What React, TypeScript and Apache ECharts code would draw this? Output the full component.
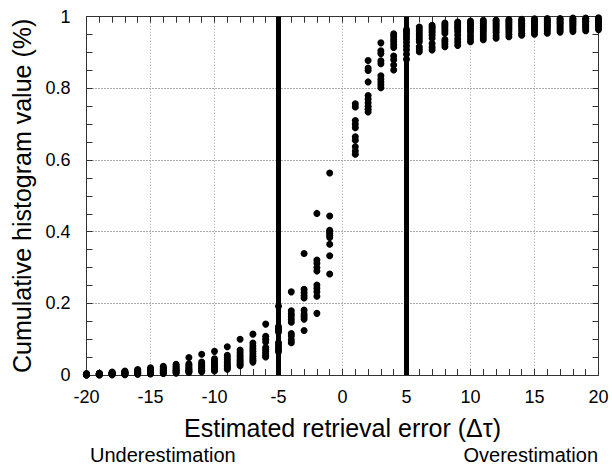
import React, { useEffect, useRef } from "react";
import * as echarts from "echarts";

// Error bins (the zero bin is not part of the histogram)
const errorBins = [
  -20, -19, -18, -17, -16, -15, -14, -13, -12, -11, -10, -9, -8, -7, -6, -5, -4, -3, -2, -1,
  1, 2, 3, 4, 5, 6, 7, 8, 9, 10, 11, 12, 13, 14, 15, 16, 17, 18, 19, 20,
];

// Cumulative histogram values for each retrieval set, one value per bin
const set1 = [
  0.004, 0.005, 0.008, 0.011, 0.015, 0.02, 0.024, 0.03, 0.049, 0.058, 0.066, 0.079, 0.1, 0.114, 0.142, 0.192, 0.232, 0.339, 0.451, 0.564,
  0.757, 0.878, 0.927, 0.952, 0.964, 0.971, 0.976, 0.982, 0.985, 0.988, 0.99, 0.991, 0.992, 0.993, 0.994, 0.995, 0.995, 0.996, 0.996, 0.997,
];
const set2 = [
  0.003, 0.004, 0.007, 0.009, 0.013, 0.017, 0.021, 0.026, 0.031, 0.036, 0.045, 0.055, 0.07, 0.089, 0.108, 0.135, 0.179, 0.239, 0.321, 0.444,
  0.748, 0.857, 0.905, 0.945, 0.958, 0.965, 0.971, 0.977, 0.98, 0.983, 0.985, 0.987, 0.988, 0.989, 0.99, 0.991, 0.992, 0.993, 0.993, 0.994,
];
const set3 = [
  0.003, 0.004, 0.006, 0.008, 0.011, 0.014, 0.018, 0.022, 0.027, 0.031, 0.039, 0.049, 0.063, 0.081, 0.1, 0.13, 0.17, 0.23, 0.312, 0.404,
  0.71, 0.85, 0.897, 0.937, 0.952, 0.958, 0.966, 0.972, 0.975, 0.978, 0.98, 0.982, 0.984, 0.985, 0.986, 0.987, 0.988, 0.989, 0.99, 0.991,
];
const set4 = [
  0.002, 0.003, 0.005, 0.007, 0.009, 0.012, 0.015, 0.019, 0.023, 0.027, 0.034, 0.043, 0.056, 0.073, 0.092, 0.125, 0.163, 0.222, 0.3, 0.4,
  0.7, 0.818, 0.877, 0.93, 0.944, 0.951, 0.96, 0.966, 0.97, 0.973, 0.975, 0.977, 0.979, 0.981, 0.982, 0.983, 0.984, 0.986, 0.987, 0.988,
];
const set5 = [
  0.002, 0.003, 0.004, 0.006, 0.008, 0.01, 0.013, 0.016, 0.019, 0.023, 0.029, 0.037, 0.05, 0.066, 0.077, 0.12, 0.155, 0.215, 0.29, 0.395,
  0.69, 0.78, 0.869, 0.922, 0.937, 0.944, 0.955, 0.96, 0.965, 0.967, 0.97, 0.972, 0.974, 0.976, 0.978, 0.979, 0.981, 0.982, 0.983, 0.984,
];
const set6 = [
  0.002, 0.002, 0.003, 0.005, 0.006, 0.008, 0.011, 0.013, 0.016, 0.019, 0.025, 0.032, 0.044, 0.059, 0.071, 0.09, 0.147, 0.181, 0.251, 0.39,
  0.665, 0.77, 0.835, 0.914, 0.928, 0.937, 0.948, 0.954, 0.958, 0.962, 0.964, 0.967, 0.969, 0.971, 0.973, 0.975, 0.977, 0.978, 0.979, 0.98,
];
const set7 = [
  0.001, 0.002, 0.003, 0.004, 0.005, 0.007, 0.009, 0.011, 0.013, 0.016, 0.021, 0.027, 0.039, 0.052, 0.065, 0.083, 0.116, 0.17, 0.242, 0.384,
  0.655, 0.76, 0.826, 0.89, 0.918, 0.93, 0.94, 0.936, 0.948, 0.955, 0.958, 0.961, 0.964, 0.966, 0.968, 0.97, 0.972, 0.974, 0.975, 0.977,
];
const set8 = [
  0.001, 0.001, 0.002, 0.003, 0.004, 0.005, 0.007, 0.009, 0.011, 0.013, 0.017, 0.023, 0.034, 0.046, 0.059, 0.076, 0.109, 0.163, 0.232, 0.365,
  0.637, 0.75, 0.818, 0.88, 0.908, 0.916, 0.925, 0.93, 0.938, 0.946, 0.951, 0.955, 0.958, 0.961, 0.963, 0.965, 0.967, 0.969, 0.971, 0.973,
];
const set9 = [
  0.0, 0.001, 0.001, 0.002, 0.003, 0.004, 0.005, 0.007, 0.009, 0.011, 0.014, 0.019, 0.03, 0.041, 0.054, 0.07, 0.098, 0.156, 0.22, 0.333,
  0.625, 0.742, 0.81, 0.865, 0.895, 0.909, 0.915, 0.923, 0.929, 0.938, 0.943, 0.947, 0.951, 0.954, 0.957, 0.96, 0.962, 0.964, 0.966, 0.969,
];
const set10 = [
  0.0, 0.0, 0.001, 0.001, 0.002, 0.003, 0.004, 0.005, 0.007, 0.009, 0.011, 0.016, 0.026, 0.036, 0.05, 0.065, 0.09, 0.124, 0.172, 0.282,
  0.616, 0.734, 0.802, 0.851, 0.881, 0.902, 0.907, 0.916, 0.92, 0.93, 0.936, 0.94, 0.944, 0.948, 0.951, 0.954, 0.957, 0.959, 0.961, 0.964,
];

const retrievalSets = [set1, set2, set3, set4, set5, set6, set7, set8, set9, set10];

// Error thresholds marked by the heavy vertical lines
const thresholds = [-5, 5];

const FONT = "'Liberation Sans', Arial, Helvetica, sans-serif";
const FRAME = "#333";

export default function App() {
  const ref = useRef<HTMLDivElement>(null);

  useEffect(() => {
    if (!ref.current) return;
    const chart = echarts.init(ref.current, undefined, { renderer: "svg" });

    // Frame on all four sides with inward major and minor ticks
    const line = () => ({ show: true, onZero: false, lineStyle: { color: FRAME, width: 1 } });
    const tick = () => ({ show: true, inside: true, length: 6, lineStyle: { color: FRAME, width: 1 } });
    const minor = (n: number) => ({ show: true, splitNumber: n, length: 6, lineStyle: { color: FRAME, width: 1 } });

    const series: any[] = retrievalSets.map((vals, i) => ({
      type: "scatter",
      name: `set${i + 1}`,
      xAxisIndex: 0,
      yAxisIndex: 0,
      symbol: "circle",
      symbolSize: 7,
      clip: false,
      itemStyle: { color: "#000", opacity: 1 },
      data: errorBins.map((x, j) => [x, vals[j]]),
      z: 3,
    }));

    // Heavy vertical lines at the error thresholds
    series[0].markLine = {
      silent: true,
      symbol: ["none", "none"],
      label: { show: false },
      lineStyle: { color: "#000", width: 5, type: "solid", opacity: 1 },
      data: thresholds.map((t) => ({ xAxis: t })),
    };

    chart.setOption({
      animation: false,
      backgroundColor: "#fff",
      textStyle: { fontFamily: FONT },
      grid: { left: 86.5, right: 13.5, top: 16.7, bottom: 90, containLabel: false },
      xAxis: [
        {
          type: "value",
          position: "bottom",
          min: -20,
          max: 20,
          interval: 5,
          axisLine: line(),
          axisTick: tick(),
          minorTick: minor(5),
          splitLine: { show: true, lineStyle: { color: "#a0a0a0", type: [1, 2], width: 1 } },
          axisLabel: { color: "#000", fontSize: 18, margin: 13, fontFamily: FONT },
          name: "Estimated retrieval error (\u0394\u03c4)",
          nameLocation: "middle",
          nameGap: 40,
          nameTextStyle: { color: "#000", fontSize: 25, fontFamily: FONT },
        },
        {
          type: "value",
          position: "top",
          min: -20,
          max: 20,
          interval: 5,
          axisLine: line(),
          axisTick: tick(),
          minorTick: minor(5),
          splitLine: { show: false },
          axisLabel: { show: false },
        },
      ],
      yAxis: [
        {
          type: "value",
          position: "left",
          min: 0,
          max: 1,
          interval: 0.2,
          axisLine: line(),
          axisTick: tick(),
          minorTick: minor(4),
          splitLine: { show: true, lineStyle: { color: "#555", type: [1, 2], width: 1 } },
          axisLabel: { color: "#000", fontSize: 18, margin: 16, fontFamily: FONT },
          name: "Cumulative histogram value (%)",
          nameLocation: "middle",
          nameGap: 50,
          nameTextStyle: { color: "#000", fontSize: 25, fontFamily: FONT },
        },
        {
          type: "value",
          position: "right",
          min: 0,
          max: 1,
          interval: 0.2,
          axisLine: line(),
          axisTick: tick(),
          minorTick: minor(4),
          splitLine: { show: false },
          axisLabel: { show: false },
        },
      ],
      graphic: [
        {
          type: "text",
          left: 90,
          top: 445,
          style: { text: "Underestimation", fill: "#000", font: `20px ${FONT}` },
        },
        {
          type: "text",
          right: 14,
          top: 445,
          style: { text: "Overestimation", fill: "#000", font: `20px ${FONT}` },
        },
      ],
      series,
    });

    return () => chart.dispose();
  }, []);

  return (
    <div
      ref={ref}
      style={{ position: "fixed", left: 0, top: 0, width: 612, height: 465, background: "#fff" }}
    />
  );
}
